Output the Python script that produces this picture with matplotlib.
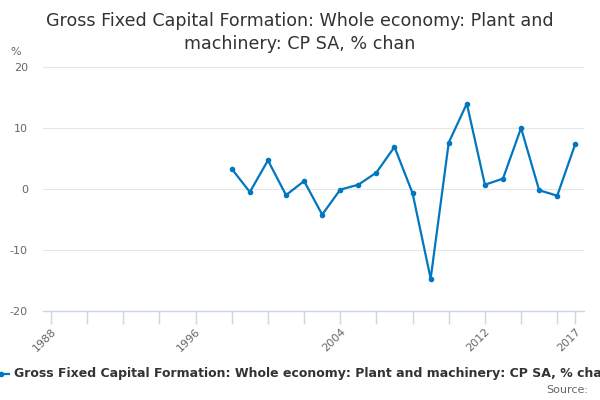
import numpy as np
import matplotlib.pyplot as plt
from matplotlib.lines import Line2D

# Annual % change
years = list(range(1998, 2018))
values = [3.3, -0.5, 4.7, -1.0, 1.3, -4.2, -0.1, 0.7, 2.7, 6.9,
          -0.7, -14.7, 7.6, 14.0, 0.7, 1.7, 10.0, -0.2, -1.1, 7.4]
tick_years = [1988, 1996, 2004, 2012, 2017]
minor_years = list(range(1988, 2017, 2)) + [2017]
y_ticks = [-20, -10, 0, 10, 20]

title = "Gross Fixed Capital Formation: Whole economy: Plant and\nmachinery: CP SA, % chan"
series_name = "Gross Fixed Capital Formation: Whole economy: Plant and machinery: CP SA, % change"

line_col = "#0077c0"
axis_col = "#ccd6eb"
text_col = "#333333"
tick_col = "#666666"

fig = plt.figure(figsize=(6, 4), dpi=100)
ax = fig.add_axes([0.072, 0.2225, 0.901, 0.61])

ax.plot(years, values, color=line_col, lw=1.6, marker="o", ms=3, zorder=3)

ax.set_xlim(1987.57, 2017.47)
ax.set_ylim(-20, 20)
ax.set_yticks(y_ticks)
ax.set_yticklabels([str(v) for v in y_ticks], color=tick_col, fontsize=8)
ax.set_xticks(minor_years)
ax.set_xticklabels([str(y) if y in tick_years else "" for y in minor_years],
                   rotation=45, ha="right", rotation_mode="anchor",
                   color=tick_col, fontsize=8)
ax.tick_params(axis="x", length=9, color=axis_col, width=1, pad=2)
ax.tick_params(axis="y", length=0, pad=11)
ax.grid(axis="y", color="#e6e6e6", lw=0.8)
ax.set_axisbelow(True)
for s in ["top", "right", "left"]:
    ax.spines[s].set_visible(False)
ax.spines["bottom"].set_color(axis_col)
ax.spines["bottom"].set_linewidth(1)

fig.text(0.5, 1 - 32.5 / 400, title, ha="center", va="center", fontsize=12.6,
         color=text_col, linespacing=1.4)
fig.text(10 / 600, 1 - 52 / 400, "%", ha="left", va="center", fontsize=8,
         color=tick_col)

# legend (clipped at the right like the original)
fig.add_artist(Line2D([0, 9 / 600], [1 - 374 / 400] * 2, color=line_col, lw=1.6,
                      transform=fig.transFigure))
fig.add_artist(Line2D([1 / 600], [1 - 374 / 400], color=line_col, marker="o",
                      ms=3, transform=fig.transFigure))
fig.text(14 / 600, 1 - 374 / 400, series_name, ha="left", va="center",
         fontsize=9, fontweight="bold", color=text_col)
fig.text(588 / 600, 1 - 390 / 400, "Source:", ha="right", va="center",
         fontsize=8, color=tick_col)

fig.savefig("out.png", dpi=100)
